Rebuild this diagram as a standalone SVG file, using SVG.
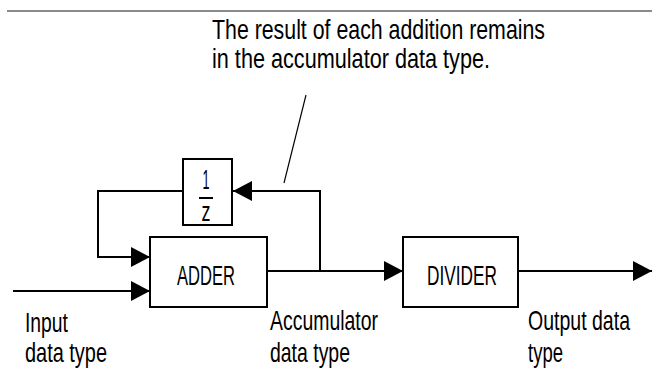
<svg xmlns="http://www.w3.org/2000/svg" width="652" height="370" viewBox="0 0 652 370">
  <defs>
    <marker id="ah" markerWidth="19" markerHeight="20" refX="19" refY="10" orient="auto" markerUnits="userSpaceOnUse">
      <path d="M0,0 L19,10 L0,20 Z" fill="#000"/>
    </marker>
    <style>
      .t { font-family: "Liberation Sans", Arial, sans-serif; font-size: 21px; fill: #000; }
      .box { fill: #fff; stroke: #000; stroke-width: 2; }
      .ln { fill: none; stroke: #000; stroke-width: 2; }
    </style>
  </defs>
  <rect width="652" height="370" fill="#fff"/>
  <line x1="7" y1="11" x2="652" y2="11" stroke="#8a8a8a" stroke-width="2"/>

  <g id="note">
    <text class="t" transform="translate(212,39) scale(1,1.3)" x="0" y="0" textLength="333" lengthAdjust="spacingAndGlyphs">The result of each addition remains</text>
    <text class="t" transform="translate(212,68) scale(1,1.3)" x="0" y="0" textLength="278" lengthAdjust="spacingAndGlyphs">in the accumulator data type.</text>
  </g>

  <g id="connectors">
    <line x1="306" y1="95" x2="284" y2="183" stroke="#000" stroke-width="1.2"/>
    <polyline class="ln" points="183,191 98,191 98,257 150,257" marker-end="url(#ah)"/>
    <line class="ln" x1="13" y1="291" x2="150" y2="291" marker-end="url(#ah)"/>
    <polyline class="ln" points="267,271 320,271 320,191 233,191" marker-end="url(#ah)"/>
    <line class="ln" x1="320" y1="271" x2="403" y2="271" marker-end="url(#ah)"/>
    <line class="ln" x1="518" y1="271" x2="652" y2="271" marker-end="url(#ah)"/>
  </g>

  <g id="delay">
    <rect class="box" x="183" y="159" width="49" height="66"/>
    <text class="t" transform="translate(206,189) scale(1,1.3)" x="0" y="0" text-anchor="middle" textLength="7" lengthAdjust="spacingAndGlyphs">1</text>
    <line x1="199" y1="198" x2="213" y2="198" stroke="#000" stroke-width="2"/>
    <text class="t" transform="translate(206,221) scale(1,1.3)" x="0" y="0" text-anchor="middle" textLength="9" lengthAdjust="spacingAndGlyphs">z</text>
  </g>

  <g id="adder">
    <rect class="box" x="150" y="237" width="117" height="70"/>
    <text class="t" transform="translate(177,285) scale(1,1.3)" x="0" y="0" textLength="58" lengthAdjust="spacingAndGlyphs">ADDER</text>
  </g>

  <g id="divider">
    <rect class="box" x="403" y="237" width="115" height="70"/>
    <text class="t" transform="translate(427,285) scale(1,1.3)" x="0" y="0" textLength="70" lengthAdjust="spacingAndGlyphs">DIVIDER</text>
  </g>

  <g id="labels">
    <text class="t" transform="translate(25,332) scale(1,1.3)" x="0" y="0" textLength="43" lengthAdjust="spacingAndGlyphs">Input</text>
    <text class="t" transform="translate(25,362) scale(1,1.3)" x="0" y="0" textLength="82" lengthAdjust="spacingAndGlyphs">data type</text>
    <text class="t" transform="translate(270,330) scale(1,1.3)" x="0" y="0" textLength="108" lengthAdjust="spacingAndGlyphs">Accumulator</text>
    <text class="t" transform="translate(270,362) scale(1,1.3)" x="0" y="0" textLength="80" lengthAdjust="spacingAndGlyphs">data type</text>
    <text class="t" transform="translate(528,330) scale(1,1.3)" x="0" y="0" textLength="102" lengthAdjust="spacingAndGlyphs">Output data</text>
    <text class="t" transform="translate(528,362) scale(1,1.3)" x="0" y="0" textLength="35" lengthAdjust="spacingAndGlyphs">type</text>
  </g>
</svg>
